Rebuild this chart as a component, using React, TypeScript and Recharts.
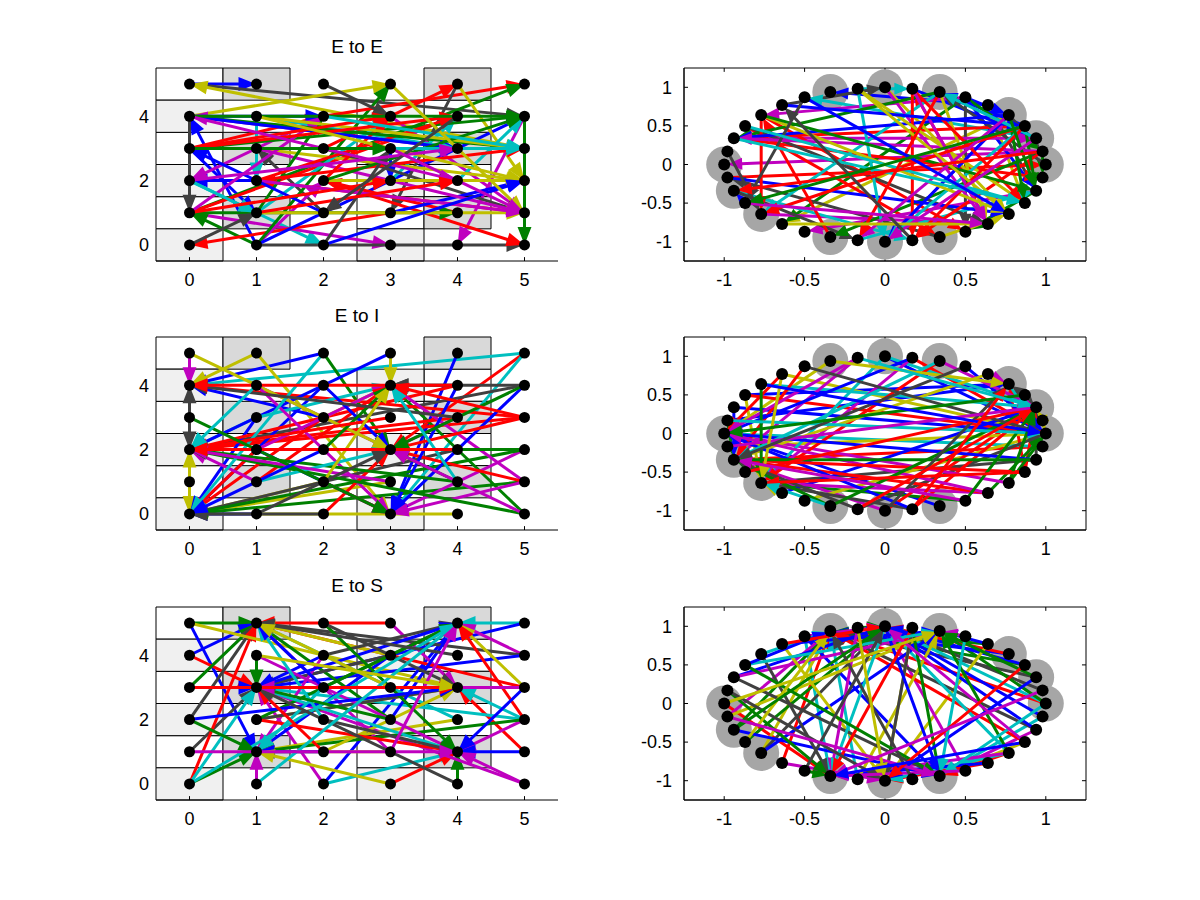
import React from 'react';
import { ScatterChart, Scatter, XAxis, YAxis, ReferenceLine, ReferenceArea } from 'recharts';

// ---------- data ----------
const COLORS = ['#0000ff', '#008000', '#ff0000', '#00bfbf', '#bf00bf', '#bfbf00', '#404040'];
const titles = ['E to E', 'E to I', 'E to S'];

const gridValues = [0, 1, 2, 3, 4, 5];
const gridTicksX = [0, 1, 2, 3, 4, 5];
const gridTicksY = [0, 2, 4];
const circleTicks = [-1, -0.5, 0, 0.5, 1];

// node positions on the circle, node index = 6 * gridX + gridY
const circleX = [1, 0.98, 0.94, 0.87, 0.77, 0.64, 0.5, 0.34, 0.17, 0, -0.17, -0.34, -0.5, -0.64, -0.77, -0.87, -0.94, -0.98,
  -1, -0.98, -0.94, -0.87, -0.77, -0.64, -0.5, -0.34, -0.17, 0, 0.17, 0.34, 0.5, 0.64, 0.77, 0.87, 0.94, 0.98];
const circleY = [0, 0.17, 0.34, 0.5, 0.64, 0.77, 0.87, 0.94, 0.98, 1, 0.98, 0.94, 0.87, 0.77, 0.64, 0.5, 0.34, 0.17,
  0, -0.17, -0.34, -0.5, -0.64, -0.77, -0.87, -0.94, -0.98, -1, -0.98, -0.94, -0.87, -0.77, -0.64, -0.5, -0.34, -0.17];

const lightCells = [[0, 0], [0, 2], [0, 4], [3, 0], [3, 2], [3, 4]];
const darkCells = [[1, 1], [1, 3], [1, 5], [4, 1], [4, 3], [4, 5]];
const whiteCells = [[0, 1], [0, 3], [0, 5], [3, 1], [3, 3], [4, 2], [4, 4]];

// edges: [fromX, fromY, toX, toY, colorIndex]
const edgesEE = [
  [0, 5, 1, 5, 0], [0, 5, 5, 4, 6], [5, 3, 0, 5, 5], [0, 4, 3, 5, 5], [1, 0, 0, 4, 0], [0, 3, 1, 1, 0],
  [0, 4, 0, 1, 6], [1, 2, 0, 2, 0], [1, 4, 1, 2, 3], [2, 1, 1, 3, 6], [0, 2, 2, 0, 3], [0, 1, 3, 0, 4],
  [1, 0, 5, 0, 6], [1, 0, 0, 1, 1], [3, 1, 0, 0, 2], [1, 0, 2, 2, 4], [1, 0, 3, 5, 1], [1, 0, 5, 4, 0],
  [2, 4, 5, 5, 2], [0, 1, 5, 5, 1], [0, 3, 2, 4, 2], [5, 1, 1, 2, 2], [2, 4, 0, 2, 4], [4, 3, 0, 4, 4],
  [2, 3, 4, 5, 2], [4, 5, 5, 2, 5], [4, 5, 3, 1, 6], [5, 4, 5, 0, 1], [5, 4, 4, 0, 4], [3, 4, 5, 1, 4],
  [3, 2, 4, 4, 3], [4, 2, 5, 4, 3], [3, 3, 3, 2, 0], [3, 2, 4, 2, 6], [2, 2, 5, 0, 2], [4, 1, 2, 2, 2],
  [0, 1, 4, 1, 1], [2, 3, 5, 1, 6], [3, 1, 5, 2, 0], [0, 0, 1, 1, 6], [0, 1, 4, 4, 2], [0, 3, 5, 4, 1],
  [1, 3, 5, 2, 5], [1, 1, 5, 1, 5], [1, 3, 5, 1, 4], [1, 4, 4, 3, 3], [1, 1, 3, 4, 3], [1, 1, 2, 4, 1],
  [2, 2, 3, 4, 2], [0, 4, 2, 4, 0], [1, 2, 4, 4, 2], [0, 1, 2, 4, 4], [0, 4, 5, 3, 1], [0, 4, 4, 3, 0],
  [1, 4, 5, 3, 5], [0, 3, 4, 3, 3], [1, 2, 5, 3, 2], [1, 2, 5, 1, 4], [2, 1, 0, 3, 0], [2, 5, 3, 4, 6],
  [2, 2, 5, 2, 5], [2, 2, 5, 4, 1], [0, 2, 1, 1, 3], [2, 0, 3, 3, 6],
  [0, 3, 4, 4, 2], [0, 3, 3, 4, 2], [0, 4, 5, 4, 1], [0, 4, 4, 2, 4], [1, 4, 5, 2, 5], [2, 3, 5, 3, 3],
  [0, 2, 4, 3, 4], [2, 4, 5, 3, 3], [0, 1, 3, 2, 2], [1, 1, 4, 2, 2], [2, 0, 5, 2, 0], [3, 5, 5, 1, 5],
  [4, 4, 2, 1, 6], [3, 3, 5, 1, 4], [0, 3, 3, 3, 1],
];

const edgesEI = [
  [0, 5, 0, 4, 4], [2, 5, 0, 4, 0], [5, 5, 0, 4, 3], [3, 5, 3, 4, 5], [1, 5, 3, 0, 5], [4, 5, 3, 0, 0],
  [5, 5, 3, 2, 2], [5, 5, 3, 0, 3], [2, 5, 3, 2, 1], [5, 4, 3, 4, 6], [5, 0, 3, 4, 1], [4, 3, 3, 2, 4],
  [4, 0, 0, 0, 5], [0, 3, 0, 2, 6], [0, 1, 0, 2, 5], [0, 1, 0, 0, 5], [0, 3, 0, 4, 6], [5, 4, 0, 2, 6],
  [5, 3, 0, 2, 2], [4, 3, 0, 2, 2], [5, 3, 0, 4, 2], [2, 3, 0, 4, 0], [1, 3, 0, 0, 0], [2, 4, 0, 0, 0],
  [2, 3, 0, 0, 2], [1, 2, 0, 0, 2], [2, 1, 0, 0, 5], [3, 1, 0, 0, 5], [4, 2, 0, 0, 6], [1, 0, 0, 0, 0],
  [5, 1, 0, 0, 1], [1, 1, 0, 2, 4], [1, 3, 0, 2, 3], [2, 2, 0, 2, 3], [4, 4, 0, 2, 2], [5, 2, 3, 0, 4],
  [5, 2, 0, 0, 1], [3, 5, 0, 2, 0], [1, 3, 3, 4, 3], [2, 3, 3, 4, 5], [1, 2, 3, 4, 4], [1, 1, 3, 4, 2],
  [5, 1, 3, 4, 4], [4, 4, 3, 4, 6], [1, 4, 3, 2, 4], [2, 4, 3, 2, 0], [0, 5, 3, 2, 5], [5, 1, 3, 2, 2],
  [4, 1, 3, 2, 1], [2, 0, 3, 2, 2], [4, 2, 3, 2, 6], [1, 2, 3, 0, 0], [2, 1, 3, 0, 2], [5, 4, 3, 0, 0],
  [4, 4, 3, 0, 0], [1, 4, 3, 0, 4], [5, 1, 3, 0, 4], [5, 3, 3, 2, 2], [4, 1, 0, 2, 1], [5, 0, 0, 2, 1],
  [2, 2, 3, 4, 1], [1, 1, 3, 2, 3], [2, 5, 0, 0, 3], [5, 4, 3, 2, 1], [1, 5, 0, 4, 5], [2, 0, 0, 0, 6],
  [4, 3, 0, 4, 6], [5, 2, 0, 2, 1], [3, 3, 0, 2, 2], [3, 1, 0, 2, 4], [5, 3, 3, 4, 2], [4, 1, 3, 4, 3],
  [2, 1, 3, 4, 5], [1, 0, 3, 2, 6], [0, 3, 3, 0, 1], [2, 2, 0, 0, 0], [4, 4, 0, 4, 2], [5, 0, 3, 2, 4],
  [1, 4, 0, 2, 3], [4, 2, 0, 2, 2],
];

const edgesES = [
  [0, 5, 1, 5, 1], [3, 5, 1, 5, 2], [0, 4, 1, 5, 0], [0, 5, 1, 1, 0], [0, 4, 1, 3, 2], [0, 3, 1, 5, 1],
  [0, 1, 1, 3, 6], [0, 2, 1, 5, 6], [0, 0, 1, 5, 2], [0, 0, 1, 3, 3], [0, 0, 1, 1, 1], [0, 3, 1, 3, 0],
  [1, 0, 1, 1, 4], [1, 4, 1, 3, 1], [0, 5, 4, 3, 5], [2, 0, 4, 1, 3], [2, 0, 4, 5, 0], [3, 0, 4, 1, 2],
  [4, 0, 4, 1, 1], [5, 0, 1, 3, 4], [2, 0, 1, 3, 4], [3, 5, 4, 3, 4], [5, 5, 4, 5, 3], [5, 5, 1, 3, 0],
  [5, 4, 4, 5, 4], [5, 4, 1, 5, 6], [5, 4, 1, 3, 0], [5, 3, 4, 5, 5], [5, 2, 4, 5, 2], [5, 1, 4, 3, 2],
  [5, 2, 4, 3, 3], [5, 2, 4, 1, 4], [5, 1, 4, 1, 0], [5, 3, 1, 5, 2], [4, 2, 1, 5, 3], [3, 2, 1, 5, 1],
  [3, 1, 1, 5, 4], [3, 4, 1, 5, 5], [3, 4, 1, 3, 6], [5, 2, 1, 3, 3], [3, 3, 1, 3, 1], [2, 4, 1, 3, 0],
  [4, 2, 1, 1, 5], [3, 4, 1, 1, 0], [5, 2, 1, 1, 1], [2, 4, 1, 1, 4], [3, 1, 1, 1, 5], [2, 1, 1, 1, 0],
  [1, 2, 4, 3, 5], [2, 1, 4, 3, 5], [1, 2, 4, 3, 6], [2, 4, 4, 5, 6], [1, 2, 4, 5, 1], [1, 3, 4, 5, 0],
  [3, 2, 4, 5, 0], [1, 4, 4, 1, 4], [1, 3, 4, 1, 3], [1, 2, 4, 1, 2], [2, 2, 4, 1, 6], [2, 5, 4, 1, 1],
  [2, 3, 4, 5, 1], [0, 2, 4, 3, 0], [2, 5, 4, 3, 6], [0, 0, 4, 5, 3], [2, 3, 1, 1, 3], [5, 0, 4, 1, 4],
  [2, 2, 1, 5, 3], [2, 3, 1, 5, 0], [4, 4, 1, 5, 6], [3, 3, 1, 5, 5], [2, 1, 1, 3, 2], [3, 2, 1, 3, 1],
  [4, 0, 1, 3, 6], [5, 3, 1, 3, 4], [3, 0, 1, 1, 5], [0, 2, 1, 1, 1], [1, 0, 4, 5, 3], [3, 1, 4, 5, 4],
  [0, 3, 4, 3, 2], [1, 4, 4, 3, 5], [0, 1, 4, 1, 4], [5, 3, 4, 1, 0],
];

const panelEdges = [edgesEE, edgesEI, edgesES];

// ---------- derived ----------
const gridNodes = gridValues.flatMap((x) => gridValues.map((y) => ({ x, y })));
const circleNodes = circleX.map((x, i) => ({ x, y: circleY[i] }));
const grayNodes = [...lightCells, ...darkCells].map(([gx, gy]) => circleNodes[6 * gx + gy]);
const toCircle = (gx: number, gy: number) => circleNodes[6 * gx + gy];

// ---------- layout ----------
const PLOT_TOPS = [68, 337, 607];
const PLOT_H = 193;
const LEFT_PLOT_X = 156;
const RIGHT_PLOT_X = 684;
const PLOT_W = 402;
const Y_AXIS_W = 60;
const FONT = '"Liberation Sans", Arial, Helvetica, sans-serif';

const makeArrow = (color: string, headLen: number, half: number, gap: number, width: number) => (p: any) => {
  const { x1, y1, x2, y2 } = p;
  if ([x1, y1, x2, y2].some((v) => typeof v !== 'number' || isNaN(v))) return <g />;
  const dx = x2 - x1;
  const dy = y2 - y1;
  const len = Math.hypot(dx, dy) || 1;
  const ux = dx / len;
  const uy = dy / len;
  const tx = x2 - ux * gap;
  const ty = y2 - uy * gap;
  const bx = tx - ux * headLen;
  const by = ty - uy * headLen;
  const px = -uy * half;
  const py = ux * half;
  return (
    <g>
      <line x1={x1} y1={y1} x2={bx} y2={by} stroke={color} strokeWidth={width} />
      <polygon
        points={`${tx},${ty} ${bx + px},${by + py} ${bx - px},${by - py}`}
        fill={color}
        stroke={color}
        strokeWidth={2}
        strokeLinejoin="miter"
      />
    </g>
  );
};

const dotShape = (r: number, fill: string) => (p: any) => <circle cx={p.cx} cy={p.cy} r={r} fill={fill} />;

const tickStyle = { fill: '#000', fontSize: 18, fontFamily: FONT };

function GridPanel({ edges, top }: { edges: number[][]; top: number }) {
  return (
    <div style={{ position: 'absolute', left: LEFT_PLOT_X - Y_AXIS_W, top: top - 10 }}>
      <ScatterChart width={Y_AXIS_W + PLOT_W + 10} height={PLOT_H + 50} margin={{ top: 10, right: 10, bottom: 0, left: 0 }}>
        <XAxis type="number" dataKey="x" domain={[-0.5, 5.5]} ticks={gridTicksX} allowDataOverflow interval={0}
          tickLine={false} axisLine={{ stroke: '#000' }} tick={tickStyle} tickSize={6} tickMargin={6} height={40} />
        <YAxis type="number" dataKey="y" domain={[-0.5, 5.5]} ticks={gridTicksY} allowDataOverflow interval={0}
          tickLine={false} axisLine={false} tick={tickStyle} width={Y_AXIS_W} tickSize={5} tickMargin={2} />
        {whiteCells.map(([cx, cy], i) => (
          <ReferenceArea key={'w' + i} x1={cx - 0.5} x2={cx + 0.5} y1={cy - 0.5} y2={cy + 0.5} fill="#ffffff"
            fillOpacity={1} stroke="#000" strokeWidth={1} ifOverflow="visible" zIndex={50} />
        ))}
        {lightCells.map(([cx, cy], i) => (
          <ReferenceArea key={'l' + i} x1={cx - 0.5} x2={cx + 0.5} y1={cy - 0.5} y2={cy + 0.5} fill="#f0f0f0"
            fillOpacity={1} stroke="#000" strokeWidth={1} ifOverflow="visible" zIndex={50} />
        ))}
        {darkCells.map(([cx, cy], i) => (
          <ReferenceArea key={'d' + i} x1={cx - 0.5} x2={cx + 0.5} y1={cy - 0.5} y2={cy + 0.5} fill="#d9d9d9"
            fillOpacity={1} stroke="#000" strokeWidth={1} ifOverflow="visible" zIndex={50} />
        ))}
        {gridTicksX.map((t) => (
          <ReferenceLine key={'t' + t} segment={[{ x: t, y: -0.5 }, { x: t, y: -0.38 }]} stroke="#000" ifOverflow="visible" zIndex={60} />
        ))}
        {edges.map((e, i) => (
          <ReferenceLine key={'e' + i} segment={[{ x: e[0], y: e[1] }, { x: e[2], y: e[3] }]} ifOverflow="visible"
            zIndex={300} shape={makeArrow(COLORS[e[4]], 14, 5.5, 3, 3)} />
        ))}
        <Scatter data={gridNodes} shape={dotShape(5.5, '#000')} isAnimationActive={false} zIndex={700} />
      </ScatterChart>
    </div>
  );
}

function CirclePanel({ edges, top }: { edges: number[][]; top: number }) {
  return (
    <div style={{ position: 'absolute', left: RIGHT_PLOT_X - Y_AXIS_W, top: top - 10 }}>
      <ScatterChart width={Y_AXIS_W + PLOT_W + 10} height={PLOT_H + 50} margin={{ top: 10, right: 10, bottom: 0, left: 0 }}>
        <XAxis type="number" dataKey="x" domain={[-1.25, 1.25]} ticks={circleTicks} allowDataOverflow interval={0}
          tickLine={false} axisLine={{ stroke: '#000' }} tick={tickStyle} tickSize={6} tickMargin={6} height={40} />
        <YAxis type="number" dataKey="y" domain={[-1.25, 1.25]} ticks={circleTicks} allowDataOverflow interval={0}
          tickLine={false} axisLine={{ stroke: '#000' }} tick={tickStyle} width={Y_AXIS_W} tickSize={6} tickMargin={6} />
        <ReferenceArea x1={-1.25} x2={1.25} y1={-1.25} y2={1.25} fill="none" fillOpacity={0} stroke="#000"
          strokeWidth={1} ifOverflow="visible" zIndex={40} />
        {circleTicks.map((t) => (
          <ReferenceLine key={'b' + t} segment={[{ x: t, y: -1.25 }, { x: t, y: -1.2 }]} stroke="#000" ifOverflow="visible" zIndex={60} />
        ))}
        {circleTicks.map((t) => (
          <ReferenceLine key={'u' + t} segment={[{ x: t, y: 1.25 }, { x: t, y: 1.2 }]} stroke="#000" ifOverflow="visible" zIndex={60} />
        ))}
        {circleTicks.map((t) => (
          <ReferenceLine key={'l' + t} segment={[{ x: -1.25, y: t }, { x: -1.225, y: t }]} stroke="#000" ifOverflow="visible" zIndex={60} />
        ))}
        {circleTicks.map((t) => (
          <ReferenceLine key={'r' + t} segment={[{ x: 1.25, y: t }, { x: 1.225, y: t }]} stroke="#000" ifOverflow="visible" zIndex={60} />
        ))}
        <Scatter data={grayNodes} shape={dotShape(18, '#a6a6a6')} isAnimationActive={false} zIndex={100} />
        {edges.map((e, i) => {
          const a = toCircle(e[0], e[1]);
          const b = toCircle(e[2], e[3]);
          return (
            <ReferenceLine key={'e' + i} segment={[{ x: a.x, y: a.y }, { x: b.x, y: b.y }]} ifOverflow="visible"
              zIndex={300} shape={makeArrow(COLORS[e[4]], 11, 4.5, 6, 3)} />
          );
        })}
        <Scatter data={circleNodes} shape={dotShape(6, '#000')} isAnimationActive={false} zIndex={700} />
      </ScatterChart>
    </div>
  );
}

export default function App() {
  return (
    <div style={{ position: 'absolute', left: 0, top: 0, width: 1200, height: 900, background: '#fff', fontFamily: FONT }}>
      {PLOT_TOPS.map((t, i) => (
        <React.Fragment key={i}>
          <GridPanel edges={panelEdges[i]} top={t} />
          <CirclePanel edges={panelEdges[i]} top={t} />
        </React.Fragment>
      ))}
      <svg width={1200} height={900} style={{ position: 'absolute', left: 0, top: 0, pointerEvents: 'none' }}>
        {PLOT_TOPS.map((t, i) => (
          <text key={i} x={LEFT_PLOT_X + PLOT_W / 2} y={t - 15.5} textAnchor="middle" fontSize={19} fontFamily={FONT} fill="#000">
            {titles[i]}
          </text>
        ))}
      </svg>
    </div>
  );
}
